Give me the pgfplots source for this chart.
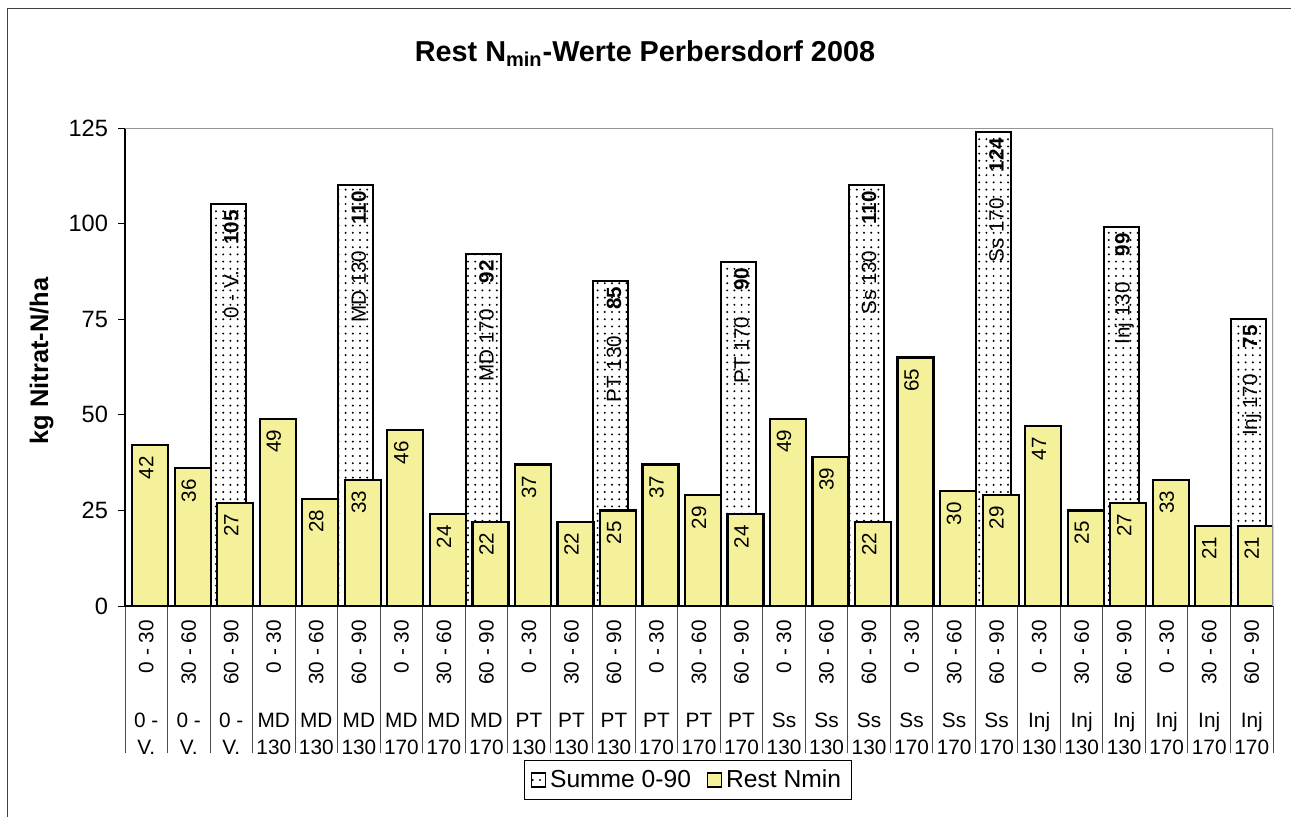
\documentclass[border=0pt]{standalone}
\usepackage{fontspec}
\setmainfont{Liberation Sans}
\usepackage{pgfplots}
\pgfplotsset{compat=1.18}
\usetikzlibrary{patterns,patterns.meta}
\definecolor{barY}{RGB}{245,241,155}
\definecolor{frameG}{RGB}{150,150,150}
\newcommand{\cl}[2]{\rotatebox{90}{\makebox[34pt][r]{#1}}\\[6pt]#2}
\pgfplotsset{sqlegend/.style={legend image code/.code={\draw[##1, line width=0.6pt] (0pt,-3.5pt) rectangle (7pt,3.5pt);}}}
\begin{document}
\begin{tikzpicture}
\useasboundingbox (0,0) rectangle (645.5pt,408pt);
\draw[black!75, line width=0.5pt] (3.5pt,-2pt) -- (3.5pt,403.5pt) -- (648pt,403.5pt);
\node[anchor=base, font=\bfseries\fontsize{14.4}{17}\selectfont] at (322.5pt,377pt) {Rest N\textsubscript{min}-Werte Perbersdorf 2008};
\node[anchor=base, rotate=90, font=\bfseries\fontsize{12.7}{15}\selectfont] at (24pt,227.5pt) {kg Nitrat-N/ha};
\begin{axis}[
  at={(62.5pt,105pt)}, anchor=south west,
  width=574pt, height=239pt, scale only axis,
  xmin=-0.5, xmax=26.5, ymin=0, ymax=125,
  axis lines=left, axis line style={-, black, line width=0.6pt},
  ytick={0,25,...,125},
  xtick={0,...,26},
  minor xtick={-0.5,0.5,...,26.5},
  tick align=outside,
  major tick length=3.5pt,
  minor tick length=73.5pt,
  major x tick style={draw=none},
  minor x tick style={draw=black!70, line width=0.5pt},
  ytick style={black, line width=0.5pt},
  /pgf/number format/assume math mode=true,
  yticklabel style={font=\fontsize{11.8}{13}\selectfont, xshift=-1.5pt},
  xticklabel style={font=\fontsize{10.4}{13.5}\selectfont, align=center, anchor=north},
  xticklabels={
   \cl{0 - 30}{0 -\\V.},\cl{30 - 60}{0 -\\V.},\cl{60 - 90}{0 -\\V.},
   \cl{0 - 30}{MD\\130},\cl{30 - 60}{MD\\130},\cl{60 - 90}{MD\\130},
   \cl{0 - 30}{MD\\170},\cl{30 - 60}{MD\\170},\cl{60 - 90}{MD\\170},
   \cl{0 - 30}{PT\\130},\cl{30 - 60}{PT\\130},\cl{60 - 90}{PT\\130},
   \cl{0 - 30}{PT\\170},\cl{30 - 60}{PT\\170},\cl{60 - 90}{PT\\170},
   \cl{0 - 30}{Ss\\130},\cl{30 - 60}{Ss\\130},\cl{60 - 90}{Ss\\130},
   \cl{0 - 30}{Ss\\170},\cl{30 - 60}{Ss\\170},\cl{60 - 90}{Ss\\170},
   \cl{0 - 30}{Inj\\130},\cl{30 - 60}{Inj\\130},\cl{60 - 90}{Inj\\130},
   \cl{0 - 30}{Inj\\170},\cl{30 - 60}{Inj\\170},\cl{60 - 90}{Inj\\170}},
  legend style={at={(0.4904,-0.364)}, anchor=center, draw=black, line width=0.5pt,
    font=\fontsize{12.3}{14}\selectfont, inner xsep=3pt, inner ysep=2.5pt,
    /tikz/every even column/.append style={column sep=6pt}},
  legend columns=2,
]
\addplot[ybar, bar width=17.5pt, bar shift=-1.5pt, draw=black, line width=1pt,
  pattern={Dots[distance=3.6pt, radius=0.55pt]}, pattern color=black,
  point meta=explicit symbolic,
  nodes near coords={\pgfplotspointmeta},
  every node near coord/.append style={rotate=90, anchor=east, inner xsep=2.5pt, inner ysep=0pt,
    font=\fontsize{10.3}{11}\selectfont, text=black},
  sqlegend]
coordinates {
(2,105) [{0 - V.\hspace{13pt}\textbf{105}}]
(5,110) [{MD 130\hspace{13pt}\textbf{110}}]
(8,92) [{MD 170\hspace{13pt}\textbf{92}}]
(11,85) [{PT 130\hspace{13pt}\textbf{85}}]
(14,90) [{PT 170\hspace{13pt}\textbf{90}}]
(17,110) [{Ss 130\hspace{13pt}\textbf{110}}]
(20,124) [{Ss 170\hspace{13pt}\textbf{124}}]
(23,99) [{Inj 130\hspace{13pt}\textbf{99}}]
(26,75) [{Inj 170\hspace{13pt}\textbf{75}}]
};
\addlegendentry{Summe 0-90}
\addplot[ybar, bar width=18pt, bar shift=2pt, draw=black, line width=1.1pt, fill=barY,
  nodes near coords,
  every node near coord/.append style={rotate=90, anchor=east, inner xsep=5pt, inner ysep=0pt,
    font=\fontsize{10.3}{11}\selectfont, text=black},
  sqlegend]
coordinates {
(0,42) (1,36) (2,27) (3,49) (4,28) (5,33) (6,46) (7,24) (8,22)
(9,37) (10,22) (11,25) (12,37) (13,29) (14,24) (15,49) (16,39) (17,22)
(18,65) (19,30) (20,29) (21,47) (22,25) (23,27) (24,33) (25,21) (26,21)
};
\addlegendentry{Rest Nmin}
\draw[frameG, line width=0.8pt] (rel axis cs:0,1) -- (rel axis cs:1,1) -- (rel axis cs:1,0);
\end{axis}
\end{tikzpicture}
\end{document}
